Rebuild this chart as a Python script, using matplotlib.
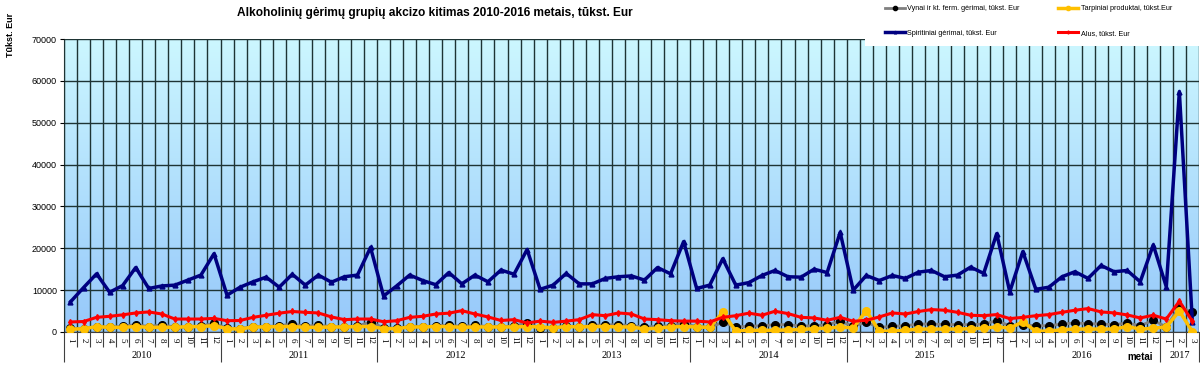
import numpy as np
import matplotlib
matplotlib.use("Agg")
import matplotlib.pyplot as plt
from matplotlib.colors import LinearSegmentedColormap
from matplotlib.patches import Rectangle

# monthly excise, thousand EUR, 2010-01 .. 2017-03
years = ["2010", "2011", "2012", "2013", "2014", "2015", "2016", "2017"]
year_months = [12, 12, 12, 12, 12, 12, 12, 3]
months = [m for n in year_months for m in range(1, n + 1)]

vynai = [900, 800, 1300, 1100, 1400, 1750, 1300, 1700, 1200, 1100, 1400, 2100,
         900, 800, 1300, 1300, 1500, 1900, 1400, 1600, 1300, 1100, 1400, 2400,
         1000, 900, 1300, 1200, 1500, 1600, 1350, 1600, 1300, 1300, 1400, 2150,
         900, 900, 1500, 1200, 1600, 1700, 1750, 1500, 1200, 1350, 1500, 2000,
         1300, 1100, 2300, 1200, 1350, 1500, 1750, 1750, 1400, 1500, 1750, 2550,
         1400, 2300, 1100, 1350, 1500, 1900, 1900, 1800, 1750, 1750, 1900, 2700,
         1500, 1750, 1500, 1500, 1900, 2150, 2000, 1900, 1750, 2150, 1500, 2800,
         1200, 6000, 4700]

tarpiniai = [700, 750, 1300, 1100, 1100, 1300, 1100, 1100, 1100, 1300, 1300, 1500,
             800, 700, 1200, 1200, 1300, 1300, 1100, 1100, 1200, 1200, 1300, 1300,
             800, 800, 1200, 1200, 1300, 1300, 1100, 1200, 1200, 1200, 1200, 1300,
             1200, 1000, 1300, 1200, 1300, 1300, 1200, 1200, 700, 900, 1200, 1300,
             1200, 1100, 4700, 200, 400, 400, 400, 500, 600, 800, 900, 1200,
             960, 5100, 200, 200, 400, 700, 700, 700, 700, 800, 900, 1200,
             960, 2400, 200, 200, 550, 700, 700, 700, 700, 1300, 700, 900,
             1200, 5000, 100]

spiritiniai = [7200, 10600, 13900, 9500, 11100, 15400, 10400, 11000, 11200, 12400, 13600, 18700,
               8800, 10700, 12000, 13100, 10700, 13800, 11200, 13600, 11900, 13200, 13600, 20200,
               8600, 11000, 13600, 12300, 11300, 14200, 11500, 13600, 12000, 14800, 13800, 19700,
               10200, 11200, 14000, 11500, 11500, 12800, 13200, 13400, 12400, 15400, 13900, 21600,
               10400, 11200, 17500, 11200, 11800, 13500, 14700, 13200, 13100, 15000, 14200, 23800,
               10000, 13500, 12300, 13500, 12800, 14300, 14700, 13200, 13600, 15500, 14000, 23500,
               9600, 19200, 10200, 10700, 13200, 14400, 12800, 15900, 14400, 14700, 12000, 20800,
               10800, 57400, 2300]

alus = [2400, 2500, 3500, 3750, 4100, 4550, 4800, 4300, 3100, 3100, 3100, 3250,
        2700, 2750, 3500, 4000, 4500, 4900, 4700, 4550, 3600, 2950, 3100, 3100,
        2450, 2700, 3500, 3750, 4300, 4500, 5100, 4300, 3600, 2750, 2950, 2150,
        2600, 2300, 2600, 2950, 4150, 3900, 4550, 4300, 3100, 2950, 2700, 2600,
        2600, 2400, 3500, 3900, 4500, 4000, 4950, 4400, 3500, 3360, 2800, 3500,
        2560, 2800, 3600, 4560, 4300, 4900, 5360, 5200, 4700, 4000, 3900, 4160,
        3200, 3500, 3900, 4160, 4700, 5200, 5600, 4800, 4560, 4080, 3360, 4000,
        3100, 7360, 2560]

n = len(months)
x = np.arange(n) + 0.5

fig = plt.figure(figsize=(12, 3.66), dpi=100)
ax = fig.add_axes([0.0533, 0.0929, 0.9458, 0.8005])

# background gradient
cmap = LinearSegmentedColormap.from_list("bg", ["#96C8FA", "#CCF7FF"])
grad = np.linspace(0, 1, 256).reshape(-1, 1)
ax.imshow(grad, extent=[0, n, 0, 70000], origin="lower", aspect="auto", cmap=cmap, zorder=0)

ax.plot(x, vynai, color="#808080", lw=2, marker="o", ms=5.5, mfc="black", mec="black", zorder=3,
        label="Vynai ir kt. ferm. gėrimai, tūkst. Eur")
ax.plot(x, tarpiniai, color="#FFC000", lw=2.5, marker="o", ms=5.5, mfc="#FFC000", mec="#FFC000", zorder=4,
        label="Tarpiniai produktai, tūkst.Eur")
ax.plot(x, spiritiniai, color="#000080", lw=2.5, marker="^", ms=3.5, zorder=5,
        label="Spiritiniai gėrimai, tūkst. Eur")
ax.plot(x, alus, color="#FF0000", lw=2.2, marker="d", ms=3, zorder=6,
        label="Alus, tūkst. Eur")

ax.set_xlim(0, n)
ax.set_ylim(0, 70000)
ax.set_yticks(np.arange(0, 70001, 10000))
ax.set_yticklabels([str(v) for v in range(0, 70001, 10000)], fontsize=6.5, family="Liberation Sans")

bounds = np.cumsum([0] + year_months)
ax.set_xticks(bounds)
ax.set_xticks(np.arange(n + 1), minor=True)
ax.set_xticklabels([])
ax.tick_params(axis="x", which="major", length=21.5, width=0.8, color="#404040")
ax.tick_params(axis="x", which="minor", length=10.5, width=0.8, color="#404040")
ax.tick_params(axis="y", length=3, width=0.8, pad=2)

ax.grid(True, axis="y", color="#1E3434", lw=1, zorder=1)
ax.grid(True, axis="x", which="both", color="#1E3434", lw=1, zorder=1)
ax.set_axisbelow(False)
for s in ["top", "right"]:
    ax.spines[s].set_visible(False)
ax.spines["left"].set_color("#404040")
ax.spines["bottom"].set_color("#404040")

tr = ax.get_xaxis_transform()
for xi, m in zip(x, months):
    ax.text(xi, -0.027, str(m), rotation=270, ha="center", va="center", fontsize=6.5,
            family="Liberation Serif", transform=tr)
for i, y in enumerate(years):
    ax.text((bounds[i] + bounds[i + 1]) / 2, -0.08, y, ha="center", va="center", fontsize=7.5,
            family="Liberation Serif", transform=tr)

fig.text(0.3625, 0.964, "Alkoholinių gėrimų grupių akcizo kitimas 2010-2016 metais, tūkst. Eur",
         ha="center", va="center", fontsize=8.6, fontweight="bold", family="Liberation Sans")
fig.text(0.009, 0.905, "Tūkst. Eur", rotation=90, ha="center", va="center", fontsize=6.5,
         fontweight="bold", family="Liberation Sans")
fig.text(0.95, 0.01, "metai", ha="center", va="bottom", fontsize=7, fontweight="bold",
         family="Liberation Sans")

# white legend area over the plot corner
fig.add_artist(Rectangle((865 / 1200, 1 - 46 / 366), 335 / 1200, 46 / 366, transform=fig.transFigure,
                         facecolor="white", edgecolor="none", zorder=2))

h, l = ax.get_legend_handles_labels()
order = [0, 2, 1, 3]
leg = fig.legend([h[i] for i in order], [l[i] for i in order], loc="upper left",
                 bbox_to_anchor=(885 / 1200, 1 - 5 / 366), ncol=2, frameon=False,
                 labelspacing=2.45, markerscale=0.55, handlelength=2.8, handletextpad=0.3,
                 columnspacing=5.3, borderpad=0, borderaxespad=0,
                 prop={"family": "Liberation Sans", "size": 5.2})
leg.set_zorder(3)

fig.savefig("out.png", dpi=100)
